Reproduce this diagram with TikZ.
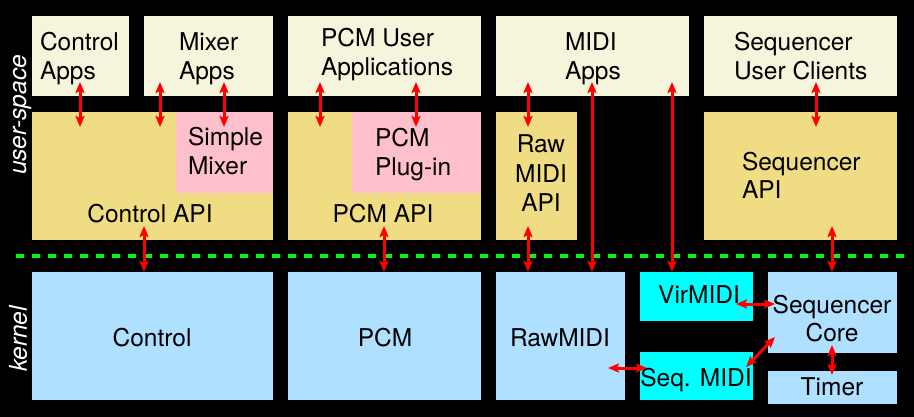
\documentclass[tikz,border=0pt]{standalone}
\usepackage{fontspec}
\setmainfont{TeX Gyre Heros}
\usetikzlibrary{arrows.meta,calc}
\definecolor{cream}{HTML}{F5F5DC}
\definecolor{khaki}{HTML}{F0DC82}
\definecolor{pinkbox}{HTML}{FFC0CB}
\definecolor{kblue}{HTML}{B0E0FF}
\definecolor{kcyan}{HTML}{00FFFF}
\definecolor{kred}{HTML}{FF0000}
\definecolor{kgreen}{HTML}{00FF00}
\tikzset{
  box/.style={draw=none, inner sep=0pt, outer sep=0pt, anchor=north west},
  txt/.style={inner sep=0pt, outer sep=0pt, text=black, font=\fontsize{24.5}{29}\selectfont},
  lt/.style={txt, anchor=base west},
  ct/.style={txt, anchor=base},
  side/.style={inner sep=0pt, text=white, rotate=90, anchor=base, font=\fontsize{24.5}{29}\selectfont\itshape},
  arr/.style={draw=kred, line width=3pt, {Stealth[length=11pt,width=9pt,inset=2pt]}-{Stealth[length=11pt,width=9pt,inset=2pt]}},
  sep/.style={draw=kgreen, line width=3.5pt, dash pattern=on 8pt off 8pt}
}
\begin{document}
\begin{tikzpicture}[x=1pt,y=-1pt]
\useasboundingbox (0,0) rectangle (914,417);
\fill[black] (0,0) rectangle (914,417);
% user-space top row
\node[box, fill=cream, minimum width=97pt, minimum height=80pt] (capps) at (32,16) {};
\node[box, fill=cream, minimum width=129pt, minimum height=80pt] (mapps) at (144,16) {};
\node[box, fill=cream, minimum width=193pt, minimum height=80pt] (papps) at (288,16) {};
\node[box, fill=cream, minimum width=193pt, minimum height=80pt] (mdapps) at (496,16) {};
\node[box, fill=cream, minimum width=193pt, minimum height=80pt] (sapps) at (704,16) {};
% API row
\node[box, fill=khaki, minimum width=241pt, minimum height=128pt] (capi) at (32,112) {};
\node[box, fill=pinkbox, minimum width=97pt, minimum height=81pt] (smix) at (176,112) {};
\node[box, fill=khaki, minimum width=193pt, minimum height=128pt] (papi) at (288,112) {};
\node[box, fill=pinkbox, minimum width=129pt, minimum height=81pt] (pplug) at (352,112) {};
\node[box, fill=khaki, minimum width=81pt, minimum height=128pt] (rapi) at (496,112) {};
\node[box, fill=khaki, minimum width=193pt, minimum height=128pt] (sapi) at (704,112) {};
% kernel row
\node[box, fill=kblue, minimum width=241pt, minimum height=128pt] (kctl) at (32,272) {};
\node[box, fill=kblue, minimum width=193pt, minimum height=128pt] (kpcm) at (288,272) {};
\node[box, fill=kblue, minimum width=129pt, minimum height=128pt] (kraw) at (496,272) {};
\node[box, fill=kcyan, minimum width=113pt, minimum height=49pt] (kvir) at (640,272) {};
\node[box, fill=kcyan, minimum width=113pt, minimum height=48pt] (kseqm) at (640,352) {};
\node[box, fill=kblue, minimum width=129pt, minimum height=81pt] (kseq) at (768,272) {};
\node[box, fill=kblue, minimum width=129pt, minimum height=33pt] (ktim) at (768,371) {};
% texts
\node[lt] (t1a) at (40,51) {Control};
\node[lt] (t1b) at (40,80) {Apps};
\node[lt] (t2a) at (179,51) {Mixer};
\node[lt] (t2b) at (179,80) {Apps};
\node[lt] (t3a) at (321,47) {PCM User};
\node[lt] (t3b) at (321,76) {Applications};
\node[lt] (t4a) at (565,51) {MIDI};
\node[lt] (t4b) at (565,80) {Apps};
\node[lt] (t5a) at (734,51) {Sequencer};
\node[lt] (t5b) at (734,80) {User Clients};
\node[lt] (t6a) at (188,146) {Simple};
\node[lt] (t6b) at (188,175) {Mixer};
\node[ct] (t7) at (150,223) {Control API};
\node[lt] (t8a) at (375,147) {PCM};
\node[lt] (t8b) at (375,176) {Plug-in};
\node[ct] (t9) at (383,223) {PCM API};
\node[ct] (t10a) at (541,153) {Raw};
\node[ct] (t10b) at (541,183) {MIDI};
\node[ct] (t10c) at (541,212) {API};
\node[lt] (t11a) at (742,171) {Sequencer};
\node[lt] (t11b) at (742,199) {API};
\node[ct] (t12) at (152,346) {Control};
\node[ct] (t13) at (385,346) {PCM};
\node[ct] (t14) at (560,346) {RawMIDI};
\node[ct] (t15) at (699,303) {VirMIDI};
\node[ct] (t16) at (696,386) {Seq. MIDI};
\node[ct] (t17a) at (832,313) {Sequencer};
\node[ct] (t17b) at (832,341) {Core};
\node[ct] (t18) at (832,395) {Timer};
% side labels
\node[side] (lus) at (26,115) {user-space};
\node[side] (lk) at (27,339) {kernel};
% separator
\coordinate (dl) at (16,256);
\coordinate (dr) at (910,256);
\draw[sep] (dl) -- (dr);
% arrows
\draw[arr] ($(capps.south west)+(48,-14)$) -- ($(capi.north west)+(48,15)$);
\draw[arr] ($(mapps.south west)+(16,-14)$) -- ($(capi.north west)+(128,15)$);
\draw[arr] ($(mapps.south west)+(80,-14)$) -- ($(smix.north west)+(48,15)$);
\draw[arr] ($(capi.south west)+(112,-14)$) -- ($(kctl.north west)+(112,0)$);
\draw[arr] ($(papps.south west)+(32,-14)$) -- ($(papi.north west)+(32,15)$);
\draw[arr] ($(papps.south west)+(128,-14)$) -- ($(pplug.north west)+(64,15)$);
\draw[arr] ($(papi.south west)+(96,-14)$) -- ($(kpcm.north west)+(96,0)$);
\draw[arr] ($(mdapps.south west)+(32,-14)$) -- ($(rapi.north west)+(32,15)$);
\draw[arr] ($(rapi.south west)+(32,-14)$) -- ($(kraw.north west)+(32,0)$);
\draw[arr] ($(mdapps.south west)+(96,-14)$) -- ($(kraw.north west)+(96,0)$);
\draw[arr] ($(mdapps.south west)+(176,-14)$) -- ($(kvir.north west)+(32,0)$);
\draw[arr] ($(sapps.south west)+(112,-14)$) -- ($(sapi.north west)+(112,15)$);
\draw[arr] ($(sapi.south west)+(128,-14)$) -- ($(kseq.north west)+(64,0)$);
\draw[arr] ($(kvir.north east)+(-17,32)$) -- ($(kseq.north west)+(7,32)$);
\draw[arr] ($(kraw.south east)+(-17,-32)$) -- ($(kseqm.north west)+(7,16)$);
\draw[arr] ($(kseqm.north east)+(-7,15)$) -- ($(kseq.south west)+(7,-16)$);
\draw[arr] ($(kseq.south west)+(64,-8)$) -- ($(ktim.north west)+(64,4)$);
\end{tikzpicture}
\end{document}
